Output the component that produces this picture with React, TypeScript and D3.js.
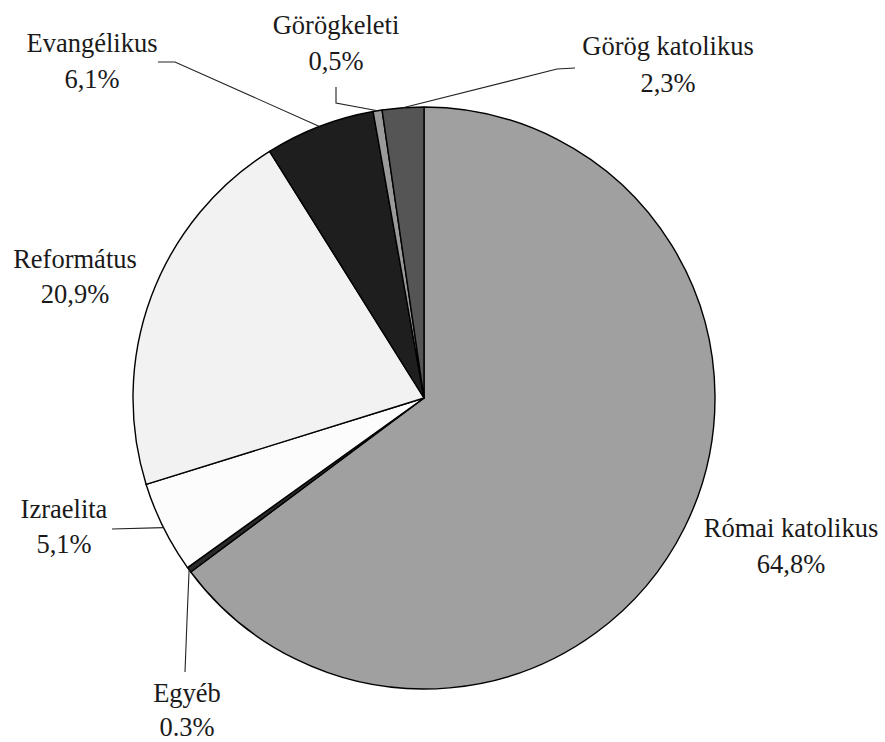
import React from "react";
import * as d3 from "d3";

const categories = [
  "Római katolikus",
  "Egyéb",
  "Izraelita",
  "Református",
  "Evangélikus",
  "Görögkeleti",
  "Görög katolikus",
];
const values = [64.8, 0.3, 5.1, 20.9, 6.1, 0.5, 2.3];
const valueLabels = ["64,8%", "0.3%", "5,1%", "20,9%", "6,1%", "0,5%", "2,3%"];
const colors = ["#a0a0a0", "#2a2a2a", "#fcfcfc", "#f2f2f2", "#1e1e1e", "#9a9a9a", "#555555"];

// label layout (text centre x, first baseline y, line gap)
const labelPos: [number, number, number][] = [
  [791, 537, 36],
  [187, 702, 34],
  [64, 518, 35],
  [75, 268, 35],
  [92, 52, 36],
  [336, 34, 36],
  [668, 55, 37],
];
// leader line anchor points on the label side (null = no leader)
const leaderPts: ([number, number][] | null)[] = [
  null,
  [[185, 672], [187, 620]],
  [[112, 529]],
  null,
  [[158, 62], [175, 62]],
  [[336, 87], [336, 103]],
  [[575, 68], [557, 69]],
];

const W = 885;
const H = 742;
const cx = 424;
const cy = 398;
const R = 291;

export default function App() {
  const pie = d3.pie<number>().sort(null).value((d) => d).startAngle(0).endAngle(2 * Math.PI);
  const arcs = pie(values);
  const arc = d3.arc<d3.PieArcDatum<number>>().innerRadius(0).outerRadius(R);
  const line = d3.line();

  return (
    <svg
      width={W}
      height={H}
      style={{ position: "absolute", left: 0, top: 0, background: "#fff", fontFamily: "'Liberation Serif', 'Times New Roman', serif" }}
    >
      <g transform={`translate(${cx},${cy})`}>
        {arcs.map((a, i) => (
          <path key={i} d={arc(a) || ""} fill={colors[i]} stroke="#000" strokeWidth={1.4} strokeLinejoin="round" />
        ))}
      </g>
      {arcs.map((a, i) => {
        const pts = leaderPts[i];
        if (!pts) return null;
        const mid = (a.startAngle + a.endAngle) / 2;
        const end: [number, number] = [cx + R * Math.sin(mid), cy - R * Math.cos(mid)];
        return (
          <path key={"l" + i} d={line([...pts, end]) || ""} fill="none" stroke="#222" strokeWidth={1.1} />
        );
      })}
      {categories.map((c, i) => (
        <text
          key={"t" + i}
          x={labelPos[i][0]}
          y={labelPos[i][1]}
          textAnchor="middle"
          fontSize={26.5}
          fill="#1a1a1a"
        >
          <tspan x={labelPos[i][0]}>{c}</tspan>
          <tspan x={labelPos[i][0]} dy={labelPos[i][2]}>{valueLabels[i]}</tspan>
        </text>
      ))}
    </svg>
  );
}
